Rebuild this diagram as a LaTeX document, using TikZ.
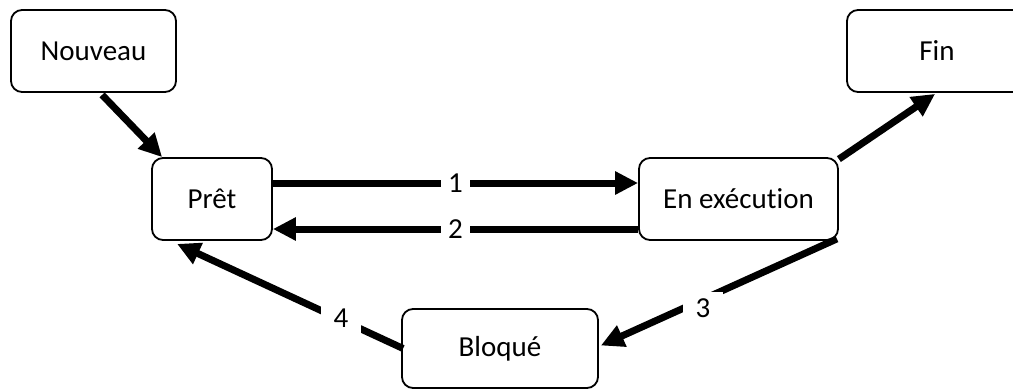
\documentclass[tikz,border=0pt]{standalone}
\usepackage{fontspec}
\setmainfont[Ligatures={NoCommon}]{Carlito}
\usetikzlibrary{arrows.meta,calc}
\tikzset{
  state/.style={draw=black,line width=1.8pt,rounded corners=11pt,fill=white,
    minimum height=82pt,inner sep=0pt,font=\fontsize{29}{33}\selectfont},
  flow/.style={line width=7pt,-{Triangle[length=23pt,width=22pt]}},
  lbl/.style={fill=white,inner xsep=7pt,inner ysep=2pt,font=\fontsize{29}{33}\selectfont},
  lblwide/.style={fill=white,inner xsep=13pt,inner ysep=6pt,font=\fontsize{29}{33}\selectfont}
}
\begin{document}
\begin{tikzpicture}[x=1pt,y=-1pt]
\useasboundingbox (0,0) rectangle (1013,389);
\node[state,minimum width=165pt] (nouveau) at (93.5,51) {Nouveau};
\node[state,minimum width=180pt] (fin) at (937,51) {Fin};
\node[state,minimum width=120pt] (pret) at (212,199) {Prêt};
\node[state,minimum width=199pt] (exec) at (738.5,199) {En exécution};
\node[state,minimum width=196pt,minimum height=79pt] (bloque) at (500,348.5) {Bloqué};

\draw[flow] ($(nouveau.south west)+(92,2)$) -- ($(pret.north west)+(11,0)$);
\draw[flow] ($(exec.north east)+(0,2)$) -- ($(fin.south west)+(89,1)$);
\draw[flow] ($(pret.east)+(0,-16)$) -- ($(exec.west)+(0,-16)$)
  node[lbl,pos=0.5] (l1) {1};
\draw[flow] ($(exec.west)+(0,30)$) -- ($(pret.east)+(0,30)$)
  node[lbl,pos=0.5] (l2) {2};
\draw[flow] ($(exec.south east)+(-2,-2)$) -- ($(bloque.east)+(2,-3)$);
\draw[flow] ($(bloque.west)+(2,0)$) -- ($(pret.south west)+(26,3)$);
\node[lblwide] (l3) at (703,308) {3};
\node[lblwide] (l4) at (341,318) {4};
\end{tikzpicture}
\end{document}
